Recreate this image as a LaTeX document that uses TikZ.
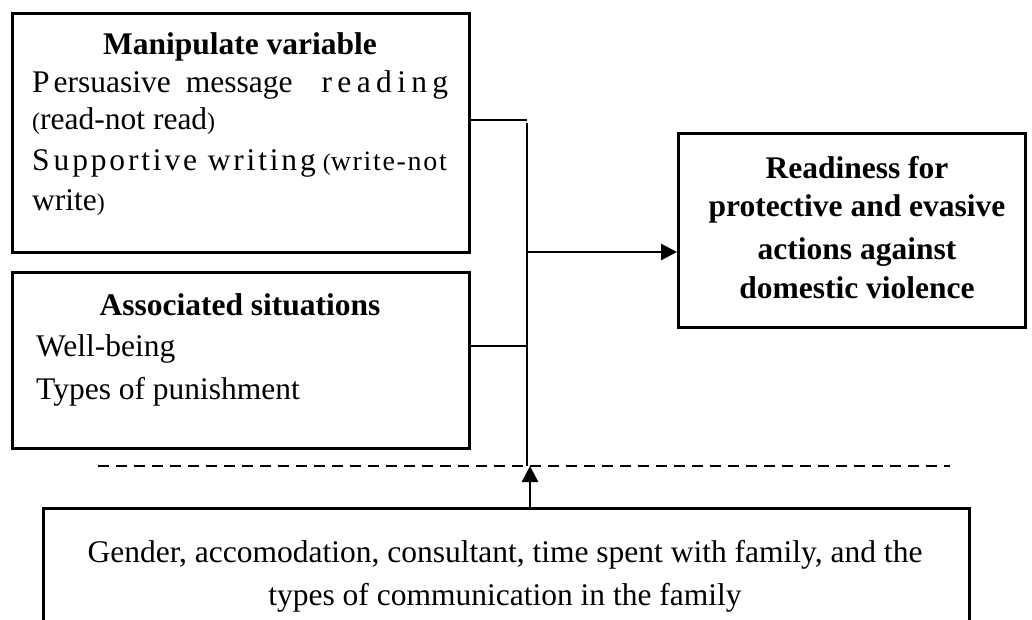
\documentclass[tikz,border=0pt]{standalone}
\usepackage{fontspec}
\setmainfont{Liberation Serif}
\usetikzlibrary{arrows.meta}
% smaller brackets, as set in the running text
\newcommand{\pbr}[1]{{\fontsize{24}{24}\selectfont #1}}
\begin{document}
\begin{tikzpicture}[x=1pt,y=-1pt,
  box/.style={draw, line width=2.9pt, rectangle, inner sep=0pt, anchor=north west},
  link/.style={line width=2.8pt},
  arr/.style={line width=2.8pt, -{Triangle[length=16pt,width=16pt]}},
  txt/.style={inner sep=0pt, font=\fontsize{31.5}{38}\selectfont},
  head/.style={inner sep=0pt, font=\fontsize{31.5}{38}\selectfont\bfseries},
]
\useasboundingbox (0,0) rectangle (1032,619);
\begin{scope}
\clip (0,0) rectangle (1032,619);

% boxes
\node[box, minimum width=457pt, minimum height=239pt] (mv) at (11,12) {};
\node[box, minimum width=457pt, minimum height=176pt] (as) at (11,271) {};
\node[box, minimum width=347pt, minimum height=194pt] (rd) at (677,132) {};
\node[box, minimum width=926pt, minimum height=160pt] (fc) at (42,507) {};

% manipulated variables
\node[head, anchor=base] (mvh) at (240,54) {Manipulate variable};
\node[txt, anchor=base west] (mv1) at (32,92)
  {P\hspace{4pt}ersuasive\hspace{15pt}message\hspace{29pt}{\addfontfeature{LetterSpace=17}reading}};
\node[txt, anchor=base west] (mv2) at (32,129) {\pbr{(}read-not read\pbr{)}};
\node[txt, anchor=base west] (mv3) at (32,170)
  {S\hspace{4pt}{\addfontfeature{LetterSpace=9}upportive writing}\hspace{7pt}\pbr{(}{\fontsize{28}{28}\selectfont\addfontfeature{LetterSpace=6}write-not}};
\node[txt, anchor=base west] (mv4) at (32,210) {write\pbr{)}};

% associated situations
\node[head, anchor=base] (ash) at (240,315) {Associated situations};
\node[txt, anchor=base west] (as1) at (36,356) {Well-being};
\node[txt, anchor=base west] (as2) at (36,399) {Types of punishment};

% outcome
\node[head, anchor=base] (rd1) at (857,178) {Readiness for};
\node[head, anchor=base] (rd2) at (857,216) {protective and evasive};
\node[head, anchor=base] (rd3) at (857,259) {actions against};
\node[head, anchor=base] (rd4) at (857,298) {domestic violence};

% control variables
\node[txt, anchor=base] (fc1) at (505,562) {Gender, accomodation, consultant, time spent with family, and the};
\node[txt, anchor=base] (fc2) at (505,605) {types of communication in the family};

% connectors
\coordinate (j1) at (527,120);
\coordinate (top) at (527,123);
\coordinate (j2) at (527,346);
\coordinate (j3) at (527,252);
\coordinate (bus) at (527,466);
\coordinate (up) at (530,466);
\coordinate (dl) at (98,466);
\coordinate (dr) at (950,466);

\draw[link] (mv.east |- j1) -- (j1);
\draw[link] (as.east |- j2) -- (j2);
\draw[link] (top) -- (bus);
\draw[arr] (j3) -- (rd.west |- j3);
\draw[line width=2.4pt, dash pattern=on 11pt off 7pt] (dl) -- (dr);
\draw[arr] (fc.north -| up) -- (up);
\end{scope}
\end{tikzpicture}
\end{document}
